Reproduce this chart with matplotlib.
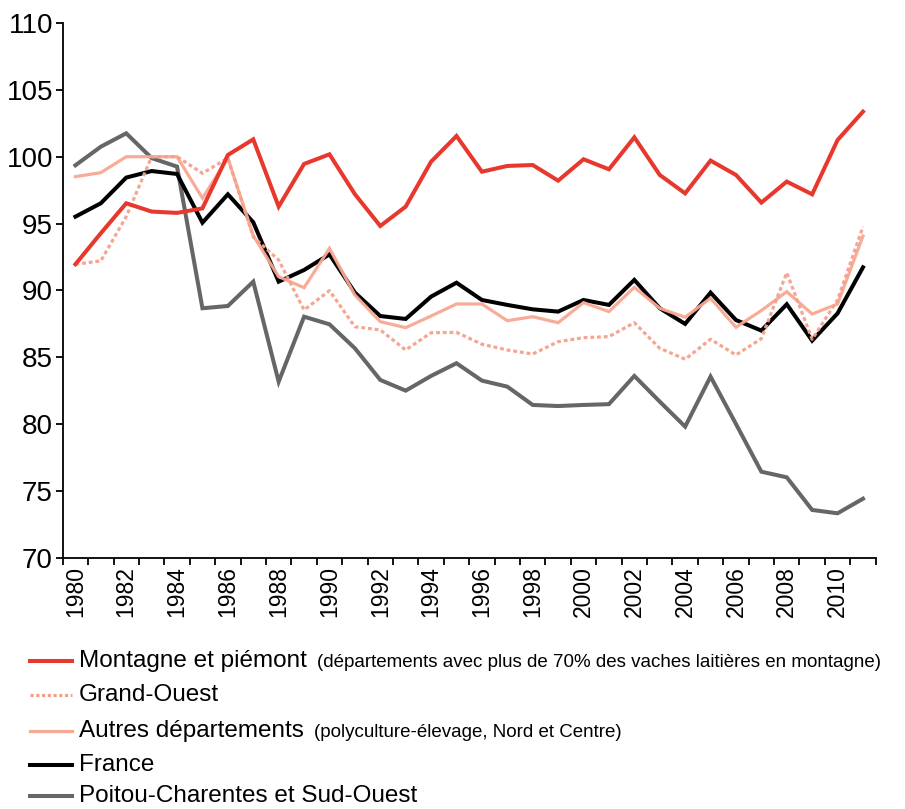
import matplotlib.pyplot as plt
from matplotlib.lines import Line2D
import numpy as np

plt.rcParams['font.family'] = ['Liberation Sans', 'DejaVu Sans']

years = list(range(1980, 2012))

montagne = [91.96, 94.28, 96.52, 95.9, 95.8, 96.14, 100.13, 101.3, 96.27, 99.46,
            100.18, 97.2, 94.82, 96.27, 99.63, 101.55, 98.88, 99.31, 99.38, 98.21,
            99.81, 99.06, 101.45, 98.64, 97.26, 99.71, 98.64, 96.57, 98.14, 97.19,
            101.25, 103.37]
grand_ouest = [91.96, 92.21, 95.52, 100.0, 100.0, 98.76, 99.9, 94.0, 92.28, 88.54,
               89.99, 87.29, 87.05, 85.55, 86.84, 86.87, 85.98, 85.55, 85.25, 86.17,
               86.47, 86.55, 87.59, 85.68, 84.86, 86.35, 85.18, 86.4, 91.33, 86.35,
               89.29, 94.77]
autres = [98.51, 98.81, 100.0, 100.0, 100.0, 96.9, 99.9, 94.1, 91.03, 90.21,
          93.15, 89.66, 87.67, 87.22, 88.09, 88.99, 88.99, 87.74, 88.04, 87.59,
          89.09, 88.42, 90.24, 88.67, 88.0, 89.42, 87.25, 88.5, 89.91, 88.24,
          88.99, 94.07]
france = [95.52, 96.52, 98.44, 98.93, 98.71, 95.07, 97.19, 95.1, 90.66, 91.53,
          92.7, 89.84, 88.09, 87.87, 89.54, 90.58, 89.29, 88.92, 88.59, 88.42,
          89.29, 88.92, 90.79, 88.67, 87.5, 89.84, 87.79, 87.0, 88.97, 86.25,
          88.29, 91.73]
poitou = [99.36, 100.75, 101.75, 99.9, 99.26, 88.67, 88.84, 90.66, 83.18, 88.04,
          87.47, 85.68, 83.31, 82.51, 83.61, 84.56, 83.26, 82.81, 81.44, 81.36,
          81.44, 81.5, 83.61, 81.69, 79.82, 83.56, 80.02, 76.45, 76.03, 73.59,
          73.34, 74.43]

c_red = '#e8382e'
c_go = '#f4a18c'
c_autres = '#f8a893'
c_grey = '#666666'

fig = plt.figure(figsize=(9.05, 8.09), dpi=100)
ax = fig.add_axes([0.0693, 0.3103, 0.8983, 0.6613])

x = np.arange(len(years))
ax.plot(x, poitou, color=c_grey, lw=2.9, solid_joinstyle='miter')
ax.plot(x, france, color='black', lw=2.9, solid_joinstyle='miter')
ax.plot(x, autres, color=c_autres, lw=2.3, alpha=0.95, solid_joinstyle='miter')
ax.plot(x, grand_ouest, color=c_go, lw=2.3, ls=(0, (1.2, 0.9)), alpha=0.95)
ax.plot(x, montagne, color=c_red, lw=2.9, solid_joinstyle='miter')

ax.set_xlim(-0.5, len(years) - 0.5)
ax.set_ylim(70, 110)
ax.set_yticks(range(70, 111, 5))
ax.tick_params(axis='y', labelsize=20, direction='out', length=5, width=1.3, pad=2)

# year labels every 2 years, tick marks on category boundaries
ax.set_xticks(x[::2])
ax.set_xticklabels([str(y) for y in years[::2]], rotation=90, fontsize=16.5)
ax.set_xticks(np.arange(-0.5, len(years)), minor=True)
ax.tick_params(axis='x', which='major', length=0, pad=6)
ax.tick_params(axis='x', which='minor', length=5, width=1.3, direction='out')

for s in ['top', 'right']:
    ax.spines[s].set_visible(False)
for s in ['left', 'bottom']:
    ax.spines[s].set_linewidth(1.3)

# legend drawn below the plot
rows = [
    ("Montagne et piémont", "(départements avec plus de 70% des vaches laitières en montagne)", c_red, '-', 2.9),
    ("Grand-Ouest", None, c_go, (0, (1.0, 0.8)), 2.3),
    ("Autres départements", "(polyculture-élevage, Nord et Centre)", c_autres, '-', 2.3),
    ("France", None, 'black', '-', 2.9),
    ("Poitou-Charentes et Sud-Ouest", None, c_grey, '-', 2.9),
]
ys = [661, 695, 731, 765, 796]
W, H = 905, 809
for (main, sub, col, ls, lw), yp in zip(rows, ys):
    fy = 1 - yp / H
    fig.add_artist(Line2D([30 / W, 72 / W], [fy, fy], color=col, ls=ls, lw=lw))
    t = fig.text(79 / W, fy, main, fontsize=17.5, va='center', ha='left')
    if sub:
        fig.canvas.draw()
        bb = t.get_window_extent()
        fig.text((bb.x1 + 10) / W, fy - 0.002, sub, fontsize=13.5, va='center', ha='left')

fig.savefig('out.png', dpi=100)
